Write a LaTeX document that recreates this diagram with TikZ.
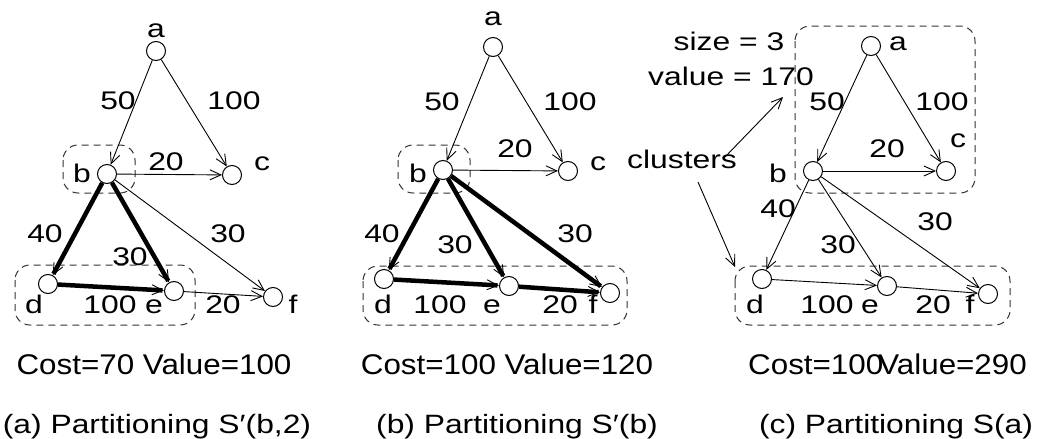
\documentclass[tikz,border=0pt]{standalone}
\usepackage{fontspec}
\setmainfont{Liberation Sans}
\newfontfamily\glfont[FakeStretch=1.25]{Liberation Sans}
\newfontfamily\costfont[FakeStretch=1.1]{Liberation Sans}
\newfontfamily\capfont[FakeStretch=1.2]{Liberation Sans}
\usetikzlibrary{arrows.meta}
\tikzset{
  vtx/.style={circle,draw,line width=1pt,minimum size=19pt,inner sep=0pt},
  lbl/.style={font=\glfont\fontsize{25.5}{25.5}\selectfont,anchor=base,inner sep=0pt},
  costlbl/.style={font=\costfont\fontsize{28.5}{28.5}\selectfont,anchor=base,inner sep=0pt},
  caplbl/.style={font=\capfont\fontsize{26.5}{26.5}\selectfont,anchor=base,inner sep=0pt},
  tip/.tip={Straight Barb[length=11pt,width=10pt,line width=0.9pt]},
  thinedge/.style={line width=0.9pt,-tip},
  thickedge/.style={line width=4.5pt,-tip},
  cluster/.style={draw=black!80,line width=1pt,dash pattern=on 7pt off 5pt,rounded corners=15pt}
}
\begin{document}
\begin{tikzpicture}[x=1pt,y=-1pt]
\useasboundingbox (0,0) rectangle (1037,439);

% ---------- panel (a) ----------
\draw[cluster] (63,145) rectangle (135,193);
\draw[cluster] (15,265) rectangle (195,325);
\node[vtx] (aa) at (156,51) {};
\node[vtx] (ab) at (107,174) {};
\node[vtx] (ac) at (232,175) {};
\node[vtx] (ad) at (48,284) {};
\node[vtx] (ae) at (174,291) {};
\node[vtx] (af) at (273,297) {};
\node[lbl] (la-a) at (156,37) {a};
\node[lbl] (la-b) at (82,182) {b};
\node[lbl] (la-c) at (262,170) {c};
\node[lbl] (la-d) at (34,313) {d};
\node[lbl] (la-e) at (154,313) {e};
\node[lbl] (la-f) at (293,313) {f};
\node[lbl] (wa1) at (118,109) {50};
\node[lbl] (wa2) at (234,109) {100};
\node[lbl] (wa3) at (166,170) {20};
\node[lbl] (wa4) at (45,242) {40};
\node[lbl] (wa5) at (228,242) {30};
\node[lbl] (wa6) at (130,265) {30};
\node[lbl] (wa7) at (110,313) {100};
\node[lbl] (wa8) at (223,313) {20};
\draw[thinedge] (aa) -- (ab);
\draw[thinedge] (aa) -- (ac);
\draw[thinedge] (ab) -- (ac);
\draw[thinedge] (ab) -- (af);
\draw[thinedge] (ae) -- (af);
\draw[thickedge] (ab) -- (ad);
\draw[thickedge] (ab) -- (ae);
\draw[thickedge] (ad) -- (ae);
\node[costlbl] (costa) at (154,374) {Cost=70 Value=100};
\node[caplbl] (capa) at (157,433) {(a) Partitioning S′(b,2)};

% ---------- panel (b) ----------
\draw[cluster] (398,145) rectangle (470,193);
\draw[cluster] (363,266) rectangle (627,325);
\node[vtx] (ba) at (493,47) {};
\node[vtx] (bb) at (443,170) {};
\node[vtx] (bc) at (568,171) {};
\node[vtx] (bd) at (384,279) {};
\node[vtx] (be) at (509,286) {};
\node[vtx] (bf) at (610,293) {};
\node[lbl] (lb-a) at (493,25) {a};
\node[lbl] (lb-b) at (418,182) {b};
\node[lbl] (lb-c) at (598,170) {c};
\node[lbl] (lb-d) at (383,313) {d};
\node[lbl] (lb-e) at (492,313) {e};
\node[lbl] (lb-f) at (593,313) {f};
\node[lbl] (wb1) at (442,110) {50};
\node[lbl] (wb2) at (570,110) {100};
\node[lbl] (wb3) at (515,157) {20};
\node[lbl] (wb4) at (382,242) {40};
\node[lbl] (wb5) at (575,242) {30};
\node[lbl] (wb6) at (455,253) {30};
\node[lbl] (wb7) at (440,313) {100};
\node[lbl] (wb8) at (560,313) {20};
\draw[thinedge] (ba) -- (bb);
\draw[thinedge] (ba) -- (bc);
\draw[thinedge] (bb) -- (bc);
\draw[thickedge] (bb) -- (bd);
\draw[thickedge] (bb) -- (be);
\draw[thickedge] (bb) -- (bf);
\draw[thickedge] (bd) -- (be);
\draw[thickedge] (be) -- (bf);
\node[costlbl] (costb) at (507,374) {Cost=100 Value=120};
\node[caplbl] (capb) at (517,433) {(b) Partitioning S′(b)};

% ---------- panel (c) ----------
\draw[cluster] (795,26) rectangle (975,193);
\draw[cluster] (735,266) rectangle (1010,325);
\node[vtx] (ca) at (871,46) {};
\node[vtx] (cb) at (813,171) {};
\node[vtx] (cc) at (946,171) {};
\node[vtx] (cd) at (762,279) {};
\node[vtx] (ce) at (887,286) {};
\node[vtx] (cf) at (988,294) {};
\node[lbl] (lc-a) at (898,50) {a};
\node[lbl] (lc-b) at (778,182) {b};
\node[lbl] (lc-c) at (958,147) {c};
\node[lbl] (lc-d) at (755,313) {d};
\node[lbl] (lc-e) at (870,313) {e};
\node[lbl] (lc-f) at (970,313) {f};
\node[lbl] (wc1) at (827,110) {50};
\node[lbl] (wc2) at (942,110) {100};
\node[lbl] (wc3) at (887,157) {20};
\node[lbl] (wc4) at (778,217) {40};
\node[lbl] (wc5) at (935,230) {30};
\node[lbl] (wc6) at (838,253) {30};
\node[lbl] (wc7) at (827,313) {100};
\node[lbl] (wc8) at (933,313) {20};
\draw[thinedge] (ca) -- (cb);
\draw[thinedge] (ca) -- (cc);
\draw[thinedge] (cb) -- (cc);
\draw[thinedge] (cb) -- (cd);
\draw[thinedge] (cb) -- (ce);
\draw[thinedge] (cb) -- (cf);
\draw[thinedge] (cd) -- (ce);
\draw[thinedge] (ce) -- (cf);
\node[lbl] (size) at (729,50) {size = 3};
\node[lbl] (value) at (731,85) {value = 170};
\node[lbl] (clusters) at (682,168) {clusters};
\coordinate (cl1s) at (725,157);
\coordinate (cl1e) at (783,97);
\coordinate (cl2s) at (698,182);
\coordinate (cl2e) at (735,267);
\draw[thinedge] (cl1s) -- (cl1e);
\draw[thinedge] (cl2s) -- (cl2e);
\node[costlbl,anchor=base west] (costc) at (748,374) {Cost=100};
\node[costlbl,anchor=base east] (valc) at (1027,374) {Value=290};
\node[caplbl] (capc) at (896,433) {(c) Partitioning S(a)};
\end{tikzpicture}
\end{document}
